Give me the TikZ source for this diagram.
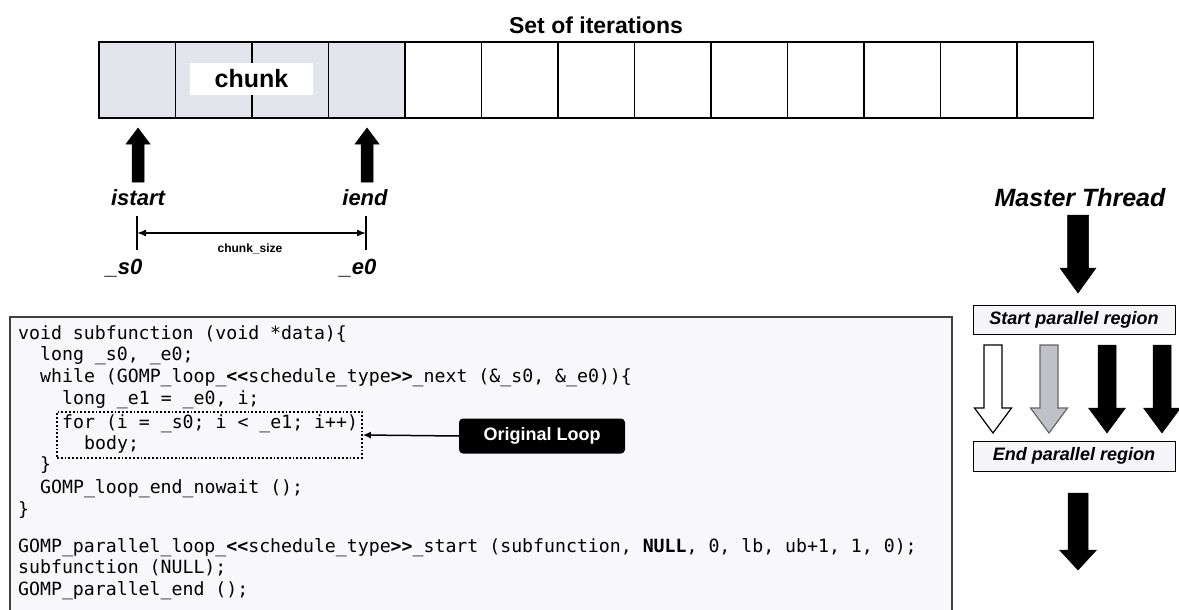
\documentclass[tikz,border=0pt]{standalone}
\usepackage{fontspec}
\setmainfont{Liberation Sans}
\newfontfamily\codefont{DejaVu Sans Mono}
\usetikzlibrary{arrows.meta}

\definecolor{cellgray}{HTML}{E4E4EC}
\definecolor{codebg}{HTML}{F8F8FB}
\definecolor{boxbg}{HTML}{F5F5F7}
\definecolor{threadgray}{HTML}{C0C0C8}

% block arrow: [style]{x}{shaft end}{head base}{half shaft}{half head}{tip}
\newcommand\fatarrow[7][]{%
  \filldraw[#1] ({#2-#5},#3) -- ({#2+#5},#3) -- ({#2+#5},#4) -- ({#2+#6},#4)
    -- (#2,#7) -- ({#2-#6},#4) -- ({#2-#5},#4) -- cycle;}

\tikzset{
  cell/.style={draw=black, line width=1.4pt, minimum width=76.5pt,
    minimum height=76pt, inner sep=0pt, fill=white},
  chunkcell/.style={cell, fill=cellgray},
  bigtext/.style={font=\bfseries\fontsize{23}{26}\selectfont},
  itlbl/.style={font=\bfseries\itshape\fontsize{22}{24}\selectfont, inner sep=0pt},
  codeline/.style={anchor=mid west, inner sep=0pt,
    font=\codefont\fontsize{18.2}{22}\selectfont},
  regionbox/.style={draw=black, line width=1pt, fill=boxbg, minimum width=202pt,
    minimum height=29pt, inner sep=0pt,
    font=\bfseries\itshape\fontsize{18}{20}\selectfont},
  blackarrow/.style={fill=black, draw=black, line width=0.5pt},
  whitearrow/.style={fill=white, draw=black, line width=1.2pt},
  grayarrow/.style={fill=threadgray, draw=black!60, line width=1.2pt},
}

\begin{document}
\begin{tikzpicture}[x=1pt, y=-1pt]
\useasboundingbox (0,0) rectangle (1179,610);
\fill[white] (0,0) rectangle (1179,610);

% ---- iteration space ----
\node[bigtext] (title) at (596,25) {Set of iterations};
\foreach \i in {1,...,4}
  \node[chunkcell] (c\i) at ({99+76.5*(\i-0.5)},80) {};
\foreach \i in {5,...,13}
  \node[cell] (c\i) at ({99+76.5*(\i-0.5)},80) {};
\node[fill=white, minimum width=123pt, minimum height=32pt, inner sep=0pt,
  font=\bfseries\fontsize{25}{25}\selectfont] (chunk) at (251.5,79) {chunk};

% bounds of the chunk
\fatarrow[blackarrow]{138}{182}{144}{6}{12}{128}
\fatarrow[blackarrow]{367}{182}{144}{6}{12}{128}
\node[itlbl] (istart) at (138,198) {istart};
\node[itlbl] (iend) at (365,198) {iend};
\coordinate (sl) at (137,233);
\coordinate (el) at (366,233);
\draw[line width=2pt] (137,216) -- (137,250);
\draw[line width=2pt] (366,216) -- (366,250);
\draw[{Latex[length=9pt,width=7pt]}-{Latex[length=9pt,width=7pt]}, line width=1.5pt]
  (sl) -- (el);
\node[font=\bfseries\fontsize{12}{14}\selectfont, inner sep=0pt] (csize) at (250,249) {chunk\_size};
\node[itlbl] (s0) at (124,268) {\_s0};
\node[itlbl] (e0) at (358,268) {\_e0};

% ---- generated code ----
\fill[codebg] (10,317) rectangle (952,612);
\draw[black!75, line width=1.2pt] (10,612) -- (10,317) -- (952,317) -- (952,612);

\node[codeline] (l1) at (18,337) {void subfunction (void *data)\{};
\node[codeline] (l2) at (40,358) {long \_s0, \_e0;};
\node[codeline] (l3) at (40,380) {while (GOMP\_loop\_{\bfseries<<}schedule\_type{\bfseries>>}\_next (\&\_s0, \&\_e0))\{};
\node[codeline] (l4) at (62,402) {long \_e1 = \_e0, i;};
\node[codeline] (l5) at (62,426) {for (i = \_s0; i < \_e1; i++)};
\node[codeline] (l6) at (84,447) {body;};
\node[codeline] (l7) at (40,468) {\}};
\node[codeline] (l8) at (40,491) {GOMP\_loop\_end\_nowait ();};
\node[codeline] (l9) at (18,513) {\}};
\node[codeline] (l10) at (18,550) {GOMP\_parallel\_loop\_{\bfseries<<}schedule\_type{\bfseries>>}\_start (subfunction, {\bfseries NULL}, 0, lb, ub+1, 1, 0);};
\node[codeline] (l11) at (18,571) {subfunction (NULL);};
\node[codeline] (l12) at (18,593) {GOMP\_parallel\_end ();};

\node[draw=black, line width=1.8pt, dash pattern=on 1.8pt off 2pt,
  minimum width=305pt, minimum height=46pt, inner sep=0pt] (loopbox) at (209.5,435) {};
\node[fill=black, text=white, rounded corners=4pt, minimum height=35pt,
  minimum width=166pt, inner sep=0pt,
  font=\bfseries\fontsize{18}{20}\selectfont] (orig) at (542,436) {Original Loop};
\draw[-{Latex[length=8pt,width=7pt]}, line width=1.5pt] (orig.west) -- (loopbox.east);

% ---- thread view ----
\node[font=\bfseries\itshape\fontsize{25}{28}\selectfont, inner sep=0pt] (master) at (1080,198) {Master Thread};
\fatarrow[blackarrow]{1078}{215}{268}{10.5}{18}{293}
\node[regionbox] (start) at (1074,319.5) {Start parallel region};
\fatarrow[whitearrow]{993}{345}{408}{9}{18.5}{433}
\fatarrow[grayarrow]{1049}{345}{408}{9}{18.5}{433}
\fatarrow[blackarrow]{1107}{345}{408}{9}{18.5}{433}
\fatarrow[blackarrow]{1162}{345}{408}{9}{18.5}{433}
\node[regionbox, minimum height=30pt] (end) at (1074,456) {End parallel region};
\fatarrow[blackarrow]{1078}{493}{550}{10}{18.5}{570}
\end{tikzpicture}
\end{document}
